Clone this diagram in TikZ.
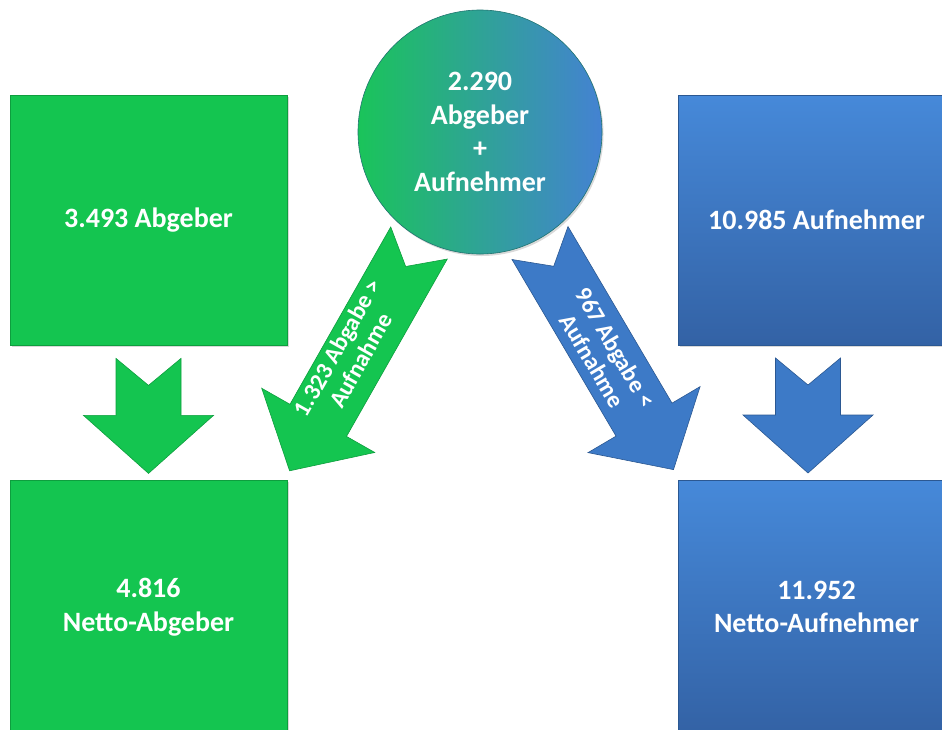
\documentclass[tikz,border=0pt]{standalone}
\usepackage{fontspec}
\setmainfont{Carlito}
\usetikzlibrary{positioning,shadows}
\definecolor{gruen}{HTML}{14C550}
\definecolor{gruenrand}{HTML}{0E9E3E}
\definecolor{blauoben}{HTML}{4689D9}
\definecolor{blauunten}{HTML}{3362A5}
\definecolor{blau}{HTML}{3D7AC7}
\definecolor{blaurand}{HTML}{2B5892}
\definecolor{kreisgruen}{HTML}{1AC45A}
\definecolor{kreisblau}{HTML}{4482D2}
\tikzset{
  kasten/.style={
    rectangle,
    minimum width=277pt,
    minimum height=250pt,
    inner sep=0pt,
    text=white,
    font=\fontsize{28}{33.5}\selectfont\bfseries,
    align=center,
    line width=.8pt,
    drop shadow={opacity=.3, shadow xshift=1.5pt, shadow yshift=-2pt}},
  gkasten/.style={kasten, fill=gruen, draw=gruenrand},
  bkasten/.style={kasten, top color=blauoben, bottom color=blauunten, draw=blaurand},
  kreis/.style={
    circle,
    minimum size=244pt,
    inner sep=0pt,
    text=white,
    font=\fontsize{28}{33.5}\selectfont\bfseries,
    align=center,
    left color=kreisgruen, right color=kreisblau,
    draw=blaurand!60!gruenrand, line width=.6pt,
    drop shadow={opacity=.3, shadow xshift=1.5pt, shadow yshift=-2pt}},
  garrow/.style={fill=gruen, draw=gruenrand, line width=.6pt,
    drop shadow={opacity=.3, shadow xshift=1pt, shadow yshift=-1.5pt}},
  barrow/.style={fill=blau, draw=blaurand, line width=.6pt,
    drop shadow={opacity=.3, shadow xshift=1pt, shadow yshift=-1.5pt}},
  pfeiltext/.style={text=white, align=center,
    font=\fontsize{24}{26.5}\selectfont\bfseries},
  blockarrow/.pic={
    \path[pic actions] (0,-32.5) -- (#1-58,-32.5) -- (#1-58,-65) -- (#1,0)
      -- (#1-58,65) -- (#1-58,32.5) -- (0,32.5) -- (27,0) -- cycle;
  },
}
\begin{document}
\begin{tikzpicture}[x=1pt,y=-1pt]
  \clip (0,0) rectangle (942,729);
  \node[gkasten] (abg) at (148.5,220) {3.493 Abgeber};
  \node[gkasten, minimum height=254pt] (nab) at (148.5,607) {4.816\\Netto-Abgeber};
  \node[bkasten] (auf) at (816.5,220) {10.985 Aufnehmer};
  \node[bkasten, minimum height=254pt] (nau) at (816.5,607) {11.952\\Netto-Aufnehmer};
  \node[kreis] (beide) at (480,132) {2.290\\Abgeber\\+\\Aufnehmer};

  \coordinate[below=13pt of abg.south] (gdn);
  \coordinate (bdn) at (808,358);
  \coordinate (gdia) at (419,243);
  \coordinate (bdia) at (540,243);

  \pic[garrow, rotate=-90] at (gdn) {blockarrow=115};
  \pic[barrow, rotate=-90] at (bdn) {blockarrow=115};
  \pic[garrow, rotate=-119.6] at (gdia) {blockarrow=262};
  \pic[barrow, rotate=-59.5] at (bdia) {blockarrow=263};

  \node[pfeiltext, rotate=60.4] (glab) at (349,354) {1.323 Abgabe >\\Aufnahme};
  \node[pfeiltext, rotate=-59.5] (blab) at (604,354) {967 Abgabe <\\Aufnahme};
\end{tikzpicture}
\end{document}
